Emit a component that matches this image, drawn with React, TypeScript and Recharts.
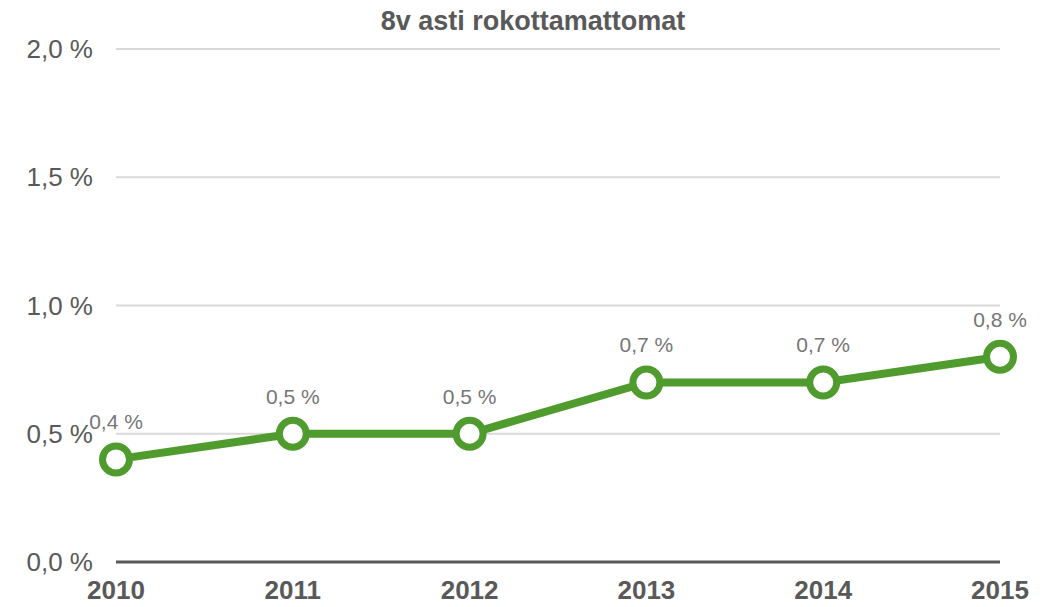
import { LineChart, Line, XAxis, YAxis, CartesianGrid, LabelList } from 'recharts';

const years = ['2010', '2011', '2012', '2013', '2014', '2015'];
const unvaccinated = [0.4, 0.5, 0.5, 0.7, 0.7, 0.8];
const yTicks = [0, 0.5, 1.0, 1.5, 2.0];

const chartData = years.map((year, i) => ({ year, value: unvaccinated[i] }));

const fmt = (v: number) => `${v.toFixed(1).replace('.', ',')} %`;

const GRAY = '#595959';
const GREEN = '#509b2e';
const FONT = '"Liberation Sans", Arial, sans-serif';

export default function App() {
  return (
    <div style={{ position: 'absolute', left: 0, top: 0, width: 1047, height: 607, background: '#fff', fontFamily: FONT }}>
      <div
        style={{
          position: 'absolute',
          top: 4,
          left: 0,
          width: 1066,
          textAlign: 'center',
          fontSize: 27,
          fontWeight: 700,
          color: GRAY,
          lineHeight: '34px',
        }}
      >
        8v asti rokottamattomat
      </div>
      <LineChart
        width={1047}
        height={607}
        data={chartData}
        margin={{ top: 49, right: 47, bottom: 0, left: 0 }}
      >
        <CartesianGrid vertical={false} stroke="#d9d9d9" strokeWidth={2} />
        <XAxis
          dataKey="year"
          height={45}
          axisLine={{ stroke: GRAY, strokeWidth: 3 }}
          tickLine={false}
          tickMargin={13}
          tick={{ fill: GRAY, fontSize: 26, fontWeight: 700, fontFamily: FONT }}
          padding={{ left: 0, right: 0 }}
        />
        <YAxis
          width={116}
          domain={[0, 2]}
          ticks={yTicks}
          axisLine={false}
          tickLine={false}
          tickMargin={17}
          tickFormatter={fmt}
          tick={{ fill: GRAY, fontSize: 26, fontFamily: FONT }}
        />
        <Line
          type="linear"
          dataKey="value"
          stroke={GREEN}
          strokeWidth={8}
          dot={{ r: 13.5, fill: '#fff', stroke: GREEN, strokeWidth: 7 }}
          isAnimationActive={false}
        >
          <LabelList
            dataKey="value"
            position="top"
            offset={30}
            formatter={(v: any) => fmt(Number(v))}
            style={{ fill: '#767676', fontSize: 21, fontFamily: FONT }}
          />
        </Line>
      </LineChart>
    </div>
  );
}
